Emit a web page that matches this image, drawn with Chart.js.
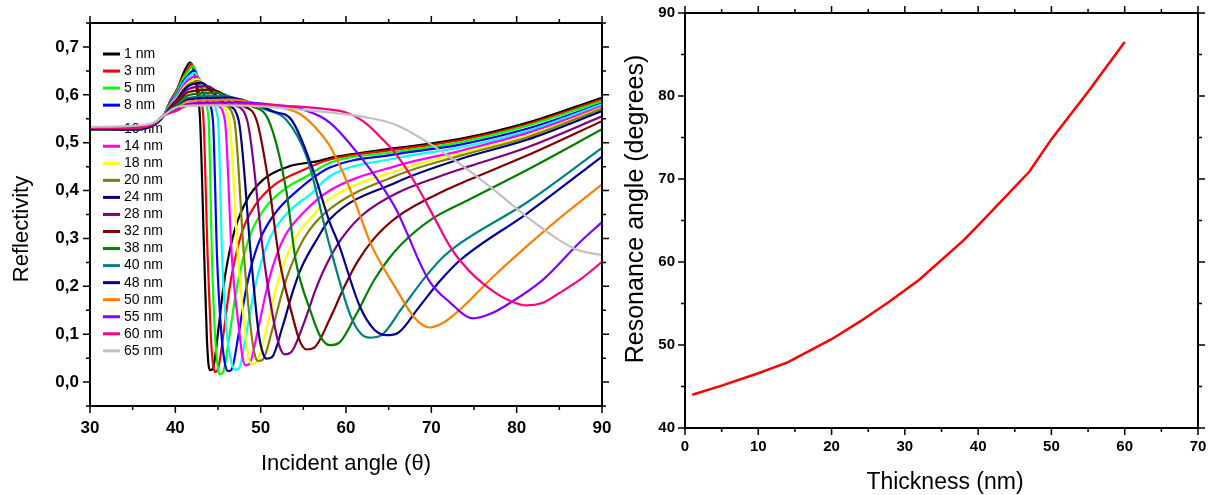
<!DOCTYPE html>
<html>
<head>
<meta charset="utf-8">
<script src="https://cdn.jsdelivr.net/npm/chart.js@4.4.1/dist/chart.umd.min.js"></script>
<style>
html,body{margin:0;padding:0;background:#fff;overflow:hidden}
#wrap{position:relative;width:1216px;height:495px}
canvas{position:absolute;top:0}
#c1{left:0}
#c2{left:610px}
</style>
</head>
<body>
<div id="wrap"><canvas id="c1" width="630" height="495"></canvas><canvas id="c2" width="606" height="495"></canvas></div>
<script>
// ── left panel: reflectivity vs incident angle, one curve per film thickness (nm)
const thk=[1,3,5,8,10,14,18,20,24,28,32,38,40,48,50,55,60,65];
const r1=[[30,.528],[35,.527],[37.5,.537],[38.6,.555],[39.4,.587],[40.2,.611],[40.9,.643],[41.4,.661],[41.72,.668],[42.2,.648],[42.6,.6],[42.9,.548],[43.4,.255],[43.7,.09],[43.9,.035],[44.1,.025],[44.4,.028],[45.0,.103],[45.6,.194],[46.1,.25],[47.0,.32],[48.4,.381],[50.3,.423],[53.4,.451],[56.6,.461],[58.1,.468],[66,.489],[73.4,.508],[81.2,.5415],[90,.594]];
const r3=[[30,.528],[35,.527],[37.5,.537],[38.6,.555],[39.4,.586],[40.2,.61],[40.9,.6375],[41.5,.654],[41.84,.665],[42.4,.64],[42.9,.595],[43.3,.548],[43.8,.255],[44.15,.1],[44.4,.04],[44.65,.021],[44.98,.026],[45.64,.10],[46.3,.19],[46.85,.245],[47.84,.315],[49.38,.37],[51.47,.41],[54.6,.44],[58.1,.465],[66,.486],[73.4,.505],[81.2,.538],[90,.59]];
const r5=[[30,.528],[35,.527],[37.5,.537],[38.6,.555],[39.4,.584],[40.2,.6075],[40.9,.634],[41.5,.6495],[42.1,.66],[42.7,.632],[43.4,.59],[43.9,.548],[44.3,.255],[44.65,.1],[44.95,.035],[45.2,.016],[45.58,.02],[46.33,.095],[47.08,.185],[47.7,.24],[48.83,.31],[50.58,.365],[52.95,.405],[55.4,.43],[58.1,.458],[66,.481],[73.4,.501],[81.2,.535],[90,.587]];
const r8=[[30,.528],[35,.527],[37.5,.537],[38.6,.555],[39.4,.582],[40.2,.603],[40.9,.627],[41.5,.641],[42.2,.651],[42.9,.625],[43.8,.585],[44.4,.548],[44.9,.255],[45.4,.1],[45.85,.035],[46.2,.023],[46.59,.026],[47.37,.095],[48.15,.18],[48.8,.235],[49.97,.30],[51.79,.355],[54.3,.40],[58.1,.448],[66,.476],[73.4,.496],[81.2,.529],[90,.582]];
const r10=[[30,.528],[35,.527],[37.5,.537],[38.6,.555],[39.4,.58],[40.2,.6005],[40.9,.623],[41.5,.637],[42.3,.646],[43.1,.62],[44.2,.583],[45.0,.548],[45.5,.255],[46.05,.1],[46.6,.04],[47.0,.026],[47.44,.028],[48.31,.10],[49.18,.185],[49.9,.24],[51.2,.305],[53.24,.355],[55.99,.395],[58.1,.43],[66,.468],[73.4,.49],[81.2,.524],[90,.58]];
const r14=[[30,.528],[35,.527],[37.5,.537],[38.6,.555],[39.4,.5785],[40.2,.597],[40.9,.618],[41.5,.6305],[42.4,.639],[43.4,.615],[44.8,.58],[45.8,.548],[46.64,.255],[47.53,.10],[47.89,.05],[48.2,.035],[48.68,.038],[49.64,.105],[50.6,.185],[51.4,.24],[52.84,.305],[55.08,.355],[58.1,.40],[66,.452],[73.4,.483],[81.2,.52],[90,.576]];
const r18=[[30,.528],[35,.527],[37.5,.537],[38.6,.555],[39.4,.577],[40.2,.594],[40.9,.6135],[41.5,.625],[42.6,.633],[43.6,.612],[45.2,.58],[46.3,.548],[47.36,.255],[48.21,.10],[48.6,.05],[48.95,.038],[49.48,.041],[50.53,.10],[51.58,.18],[52.45,.235],[54.03,.30],[56.48,.355],[58.1,.383],[66,.442],[73.4,.478],[81.2,.514],[90,.573]];
const r20=[[30,.528],[35,.527],[37.5,.537],[38.6,.555],[39.4,.575],[40.2,.5915],[40.9,.61],[41.5,.6207],[42.8,.628],[43.9,.61],[45.6,.58],[46.9,.548],[48.08,.255],[48.92,.10],[49.34,.055],[49.7,.044],[50.26,.047],[51.37,.11],[52.48,.185],[53.4,.235],[55.07,.30],[57.66,.355],[66,.432],[73.4,.473],[81.2,.511],[90,.571]];
const r24=[[30,.528],[35,.527],[37.5,.537],[38.6,.555],[39.4,.5746],[40.2,.59],[40.9,.6075],[41.5,.618],[43.1,.625],[44.3,.607],[46.0,.58],[47.4,.548],[48.9,.255],[49.78,.10],[50.27,.06],[50.7,.049],[51.32,.052],[52.55,.115],[53.78,.19],[54.8,.24],[56.65,.30],[58.1,.34],[66,.418],[73.4,.466],[81.2,.506],[90,.566]];
const r28=[[30,.531],[35,.531],[37.5,.54],[38.6,.556],[39.4,.5726],[40.2,.5865],[40.9,.602],[41.5,.6117],[43.7,.618],[45.0,.605],[46.8,.58],[48.4,.548],[50.4,.255],[51.5,.13],[52.2,.075],[52.8,.058],[53.54,.062],[55.0,.12],[56.48,.195],[57.7,.245],[59.5,.30],[62,.35],[66,.395],[71,.43],[74.5,.451],[81.2,.49],[90,.555]];
const r32=[[30,.531],[35,.531],[37.5,.54],[38.6,.556],[39.4,.5707],[40.2,.583],[40.9,.597],[41.5,.6054],[44.25,.611],[45.8,.6],[47.8,.578],[49.5,.548],[50.9,.42],[52.2,.255],[53.7,.14],[54.6,.085],[55.4,.068],[56.29,.072],[58.06,.13],[59.83,.20],[61.3,.25],[63.2,.298],[66,.345],[71.8,.402],[74.5,.423],[81.2,.473],[90,.545]];
const r38=[[30,.531],[35,.531],[37.5,.54],[38.6,.556],[39.4,.5687],[40.2,.5795],[40.9,.5918],[41.5,.599],[44.8,.604],[46.5,.595],[48.8,.577],[50.9,.548],[53.0,.40],[54.1,.255],[55.9,.145],[57.0,.095],[58.1,.077],[59.12,.081],[61.16,.14],[63.2,.21],[64.9,.255],[66.6,.29],[70,.34],[74.5,.382],[81.2,.443],[90,.528]];
const r40=[[30,.531],[35,.531],[37.5,.54],[38.6,.556],[39.4,.567],[40.2,.5765],[40.9,.587],[41.5,.5937],[45.6,.598],[48,.588],[50.5,.57],[53.0,.548],[55.4,.47],[58.1,.284],[60.5,.14],[61.8,.10],[62.8,.093],[64.06,.097],[66.58,.155],[69.1,.215],[71.2,.258],[73.4,.29],[81.2,.375],[90,.489]];
const r48=[[30,.531],[35,.531],[37.5,.54],[38.6,.556],[39.4,.566],[40.2,.5745],[40.9,.584],[41.5,.59],[46.2,.594],[49,.583],[51.5,.565],[53.6,.548],[56,.45],[58.1,.333],[59.1,.29],[61.6,.159],[63.3,.11],[64.8,.098],[66.03,.102],[68.49,.155],[70.95,.21],[73.4,.255],[81.2,.352],[90,.471]];
const r50=[[30,.531],[35,.531],[37.5,.54],[38.6,.556],[39.4,.5648],[40.2,.5725],[40.9,.5813],[41.5,.5865],[46.6,.59],[50,.58],[52.5,.573],[54.6,.56],[56.5,.53],[58.1,.493],[60.5,.402],[63,.285],[65.9,.194],[68,.135],[69.8,.114],[71.5,.125],[73.4,.152],[77.3,.221],[81.2,.284],[85,.342],[90,.413]];
const r55=[[30,.531],[35,.531],[37.5,.54],[38.6,.556],[39.4,.5631],[40.2,.5695],[40.9,.5768],[41.5,.581],[47.1,.584],[51,.58],[55,.569],[58.1,.542],[61.5,.475],[64,.415],[65.9,.36],[67.3,.305],[68.5,.255],[69.8,.21],[72.2,.166],[74.9,.133],[77,.143],[79.2,.165],[83.1,.214],[87.4,.292],[90,.334]];
const r60=[[30,.531],[35,.531],[37.5,.54],[38.6,.556],[39.4,.562],[40.2,.5675],[40.9,.5738],[41.5,.5775],[47.6,.58],[52,.578],[56.6,.572],[60,.563],[62,.545],[64.4,.505],[65.9,.475],[68.3,.41],[70.3,.345],[72.4,.277],[73.4,.253],[75.3,.217],[77.3,.189],[79.2,.17],[81.2,.16],[83,.165],[85.1,.187],[87.5,.215],[90,.251]];
const r65=[[30,.533],[35,.535],[37.5,.542],[38.6,.556],[39.5,.568],[40.5,.576],[45,.578],[50,.576],[54.6,.569],[58.1,.563],[62.4,.553],[65.9,.537],[69,.507],[72.2,.47],[73.4,.455],[77.3,.402],[81.2,.345],[84.7,.30],[87,.277],[90,.265]];
const angTicks=[30,40,50,60,70,80,90];
const refTicks=[0,.1,.2,.3,.4,.5,.6,.7];

// ── right panel: resonance angle vs thickness
const thick2=[1,5,10,14,20,24,28,32,38,40,47,50,55,60];
const resAng=[44.0,45.1,46.6,47.9,50.7,52.9,55.3,57.9,62.6,64.4,70.9,74.8,80.5,86.5];
const thkTicks=[0,10,20,30,40,50,60,70];
const degTicks=[40,50,60,70,80,90];

const curves=[r1,r3,r5,r8,r10,r14,r18,r20,r24,r28,r32,r38,r40,r48,r50,r55,r60,r65];
const cols=['#000000','#ff0000','#00ff00','#0000ff','#00ffff','#ff00ff','#ffff00','#808000','#000080','#800080','#800000','#008000','#008080','#0000a0','#ff8000','#8000ff','#ff0080','#c0c0c0'];
const fnt="'Liberation Sans', Arial, sans-serif";
const narrow="'Liberation Sans Narrow', 'Arial Narrow', 'Liberation Sans', sans-serif";

// box + outward major/minor ticks on all four sides
const frame={id:'frame',afterDraw(c,a,o){
  const {ctx,chartArea:r,scales:{x,y}}=c;
  ctx.save();ctx.strokeStyle='#000';ctx.lineWidth=o.lw;
  ctx.strokeRect(r.left,r.top,r.right-r.left,r.bottom-r.top);
  ctx.lineWidth=o.tw;ctx.beginPath();
  const nx=Math.round((x.max-x.min)/o.xs), ny=Math.round((y.max-y.min)/o.ys);
  for(let i=0;i<=nx;i++){
    const v=x.min+i*o.xs, L=Math.abs(v/o.xm-Math.round(v/o.xm))<1e-6?o.big:o.small, p=x.getPixelForValue(v);
    ctx.moveTo(p,r.bottom);ctx.lineTo(p,r.bottom+L);ctx.moveTo(p,r.top);ctx.lineTo(p,r.top-L);
  }
  for(let i=0;i<=ny;i++){
    const v=y.min+i*o.ys, L=Math.abs(v/o.ym-Math.round(v/o.ym))<1e-6?o.big:o.small, p=y.getPixelForValue(v);
    ctx.moveTo(r.left,p);ctx.lineTo(r.left-L,p);ctx.moveTo(r.right,p);ctx.lineTo(r.right+L,p);
  }
  ctx.stroke();ctx.restore();
}};
const titles={id:'titles',afterDraw(c,a,o){
  const ctx=c.ctx;ctx.save();ctx.fillStyle='#000';ctx.textAlign='center';ctx.textBaseline='middle';
  o.items.forEach(t=>{ctx.font=t.font;ctx.save();ctx.translate(t.x,t.y);ctx.rotate(t.rot||0);ctx.fillText(t.text,0,0);ctx.restore();});
  ctx.restore();
}};
// in-plot key, drawn under the curves like the original
const key={id:'key',beforeDatasetsDraw(c,a,o){
  const ctx=c.ctx;ctx.save();ctx.font=`14px ${fnt}`;ctx.textBaseline='middle';ctx.fillStyle='#000';
  c.data.datasets.forEach((d,i)=>{
    const y=o.top+i*o.gap+(i>=o.split?o.extra:0);
    ctx.strokeStyle=d.borderColor;ctx.lineWidth=3;ctx.beginPath();ctx.moveTo(o.left,y);ctx.lineTo(o.left+o.len,y);ctx.stroke();
    ctx.fillText(d.label,o.left+o.len+4,y);
  });
  ctx.restore();
}};
// fixed axis boxes: no label overhang padding, so the plot area lands where the figure has it
const fixX=h=>s=>{s.height=h;s.paddingLeft=0;s.paddingRight=0;};
const fixY=w=>s=>{s.width=w;s.paddingTop=0;s.paddingBottom=0;};

const sets=curves.map((pts,i)=>({label:thk[i]+' nm',data:pts.map(([x,y])=>({x,y})),borderColor:cols[i],borderWidth:2.2,pointRadius:0,fill:false,cubicInterpolationMode:'monotone',order:-i}));

new Chart(document.getElementById('c1'),{type:'line',data:{datasets:sets},
  options:{responsive:false,animation:false,events:[],
    layout:{autoPadding:false,padding:{top:23,right:28,left:0,bottom:0}},
    plugins:{legend:{display:false},tooltip:{enabled:false},
      frame:{lw:2,tw:1.5,big:7,small:4,xs:5,xm:10,ys:.05,ym:.1},
      key:{top:54,gap:17.05,split:4,extra:7,left:103,len:17},
      titles:{items:[{text:'Reflectivity',x:22,y:229,rot:-Math.PI/2,font:`22px ${fnt}`},{text:'Incident angle (θ)',x:346,y:464,font:`22px ${fnt}`}]}},
    scales:{
      x:{type:'linear',min:30,max:90,afterFit:fixX(89),afterBuildTicks:s=>{s.ticks=angTicks.map(v=>({value:v}))},
        grid:{display:false,drawTicks:false},border:{display:false},
        ticks:{padding:12,color:'#000',maxRotation:0,font:{family:fnt,size:17,weight:'bold'}}},
      y:{type:'linear',min:-.05,max:.75,afterFit:fixY(90),afterBuildTicks:s=>{s.ticks=refTicks.map(v=>({value:v}))},
        grid:{display:false,drawTicks:false},border:{display:false},
        ticks:{padding:11,color:'#000',font:{family:fnt,size:17,weight:'bold'},callback:v=>v.toFixed(1).replace('.',',')}}
    }},
  plugins:[key,frame,titles]});

new Chart(document.getElementById('c2'),{type:'line',
  data:{datasets:[{data:thick2.map((t,i)=>({x:t,y:resAng[i]})),borderColor:'#ff0000',borderWidth:2.5,pointRadius:0,fill:false,tension:0}]},
  options:{responsive:false,animation:false,events:[],
    layout:{autoPadding:false,padding:{top:13,right:18,left:0,bottom:0}},
    plugins:{legend:{display:false},tooltip:{enabled:false},
      frame:{lw:2,tw:1.5,big:7,small:4,xs:5,xm:10,ys:5,ym:10},
      titles:{items:[{text:'Resonance angle (degrees)',x:26,y:209,rot:-Math.PI/2,font:`25px ${fnt}`},{text:'Thickness (nm)',x:335,y:483,font:`23px ${fnt}`}]}},
    scales:{
      x:{type:'linear',min:0,max:70,afterFit:fixX(67),afterBuildTicks:s=>{s.ticks=thkTicks.map(v=>({value:v}))},
        grid:{display:false,drawTicks:false},border:{display:false},
        ticks:{padding:10,color:'#000',maxRotation:0,font:{family:narrow,size:15,weight:'bold'}}},
      y:{type:'linear',min:40,max:90,afterFit:fixY(75),afterBuildTicks:s=>{s.ticks=degTicks.map(v=>({value:v}))},
        grid:{display:false,drawTicks:false},border:{display:false},
        ticks:{padding:10,color:'#000',font:{family:narrow,size:15,weight:'bold'}}}
    }},
  plugins:[frame,titles]});
</script>
</body>
</html>
